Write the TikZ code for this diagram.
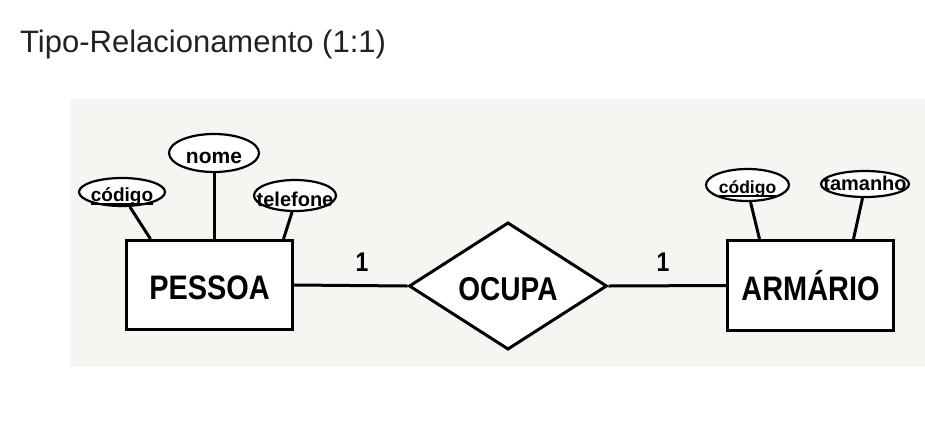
\documentclass[tikz,border=0pt]{standalone}
\usepackage{fontspec}
\setmainfont{Liberation Sans}
\newfontfamily\erfont{Liberation Sans Bold}[FakeStretch=0.85]
\newfontfamily\attfont{Liberation Sans Bold}
\usetikzlibrary{shapes.geometric,calc}
\definecolor{panel}{RGB}{245,245,242}
\definecolor{titlec}{RGB}{34,34,34}
\newcommand\keyul[1]{\setbox0=\hbox{#1}\rlap{\copy0}\rule[-3.5pt]{\wd0}{1.8pt}}
\tikzset{
  entity/.style={draw,line width=3pt,fill=white,minimum width=166pt,minimum height=89pt,inner sep=0pt,text height=29pt,text depth=0pt,font=\erfont\fontsize{34}{34}\selectfont},
  relbox/.style={draw,shape=diamond,line width=3pt,fill=white,minimum width=198pt,minimum height=119pt,inner sep=0pt,text height=28pt,text depth=0pt,font=\erfont\fontsize{33}{33}\selectfont},
  attr/.style={draw,shape=ellipse,line width=2.2pt,fill=white,inner xsep=-30pt,inner ysep=-15pt,text depth=0pt},
  conn/.style={line width=3pt},
  card/.style={font=\erfont\fontsize{27}{27}\selectfont,inner sep=0pt}
}
\begin{document}
\begin{tikzpicture}[x=1pt,y=-1pt]
\useasboundingbox (0,0) rectangle (925,426);
\fill[white] (0,0) rectangle (925,426);
\fill[panel] (70,99) rectangle (925,367);
\node[anchor=base west,inner sep=0pt,text=titlec,font=\fontsize{31}{31}\selectfont] (title) at (20,52) {Tipo-Relacionamento (1:1)};

\node[entity] (pessoa) at (209.5,285) {PESSOA};
\node[relbox] (ocupa) at (508,286) {OCUPA};
\node[entity,minimum height=90pt] (armario) at (810.5,285.5) {ARMÁRIO};

\node[attr,minimum width=86pt,minimum height=28pt,text height=18pt,font=\attfont\fontsize{19}{19}\selectfont] (cod1) at (122,192) {\keyul{código}};
\node[attr,minimum width=90pt,minimum height=38pt,text height=20pt,font=\attfont\fontsize{21}{21}\selectfont] (nome) at (214,153) {nome};
\node[attr,minimum width=82pt,minimum height=31pt,text height=22pt,font=\attfont\fontsize{20}{20}\selectfont] (tel) at (295,195.5) {telefone};
\node[attr,minimum width=83pt,minimum height=32pt,text height=16pt,font=\attfont\fontsize{17.5}{17.5}\selectfont] (cod2) at (747.5,185) {\keyul{código}};
\node[attr,minimum width=88pt,minimum height=26pt,text height=12pt,font=\attfont\fontsize{20}{20}\selectfont] (tam) at (865,184) {tamanho};

\draw[conn] (cod1.-62) -- ($(pessoa.north west)+(25.5,0)$);
\draw[conn] (nome.south) -- (nome.south |- pessoa.north);
\draw[conn] (tel.-100) -- ($(pessoa.north east)+(-10.5,0)$);
\draw[conn] (cod2.-80) -- ($(armario.north west)+(33.5,0)$);
\draw[conn] (tam.-100) -- ($(armario.north east)+(-41.5,0)$);

\draw[conn] (pessoa.east) -- (ocupa.west);
\draw[conn] (ocupa.east) -- (armario.west);

\node[card] (c1) at (362,262) {1};
\node[card] (c2) at (663,262) {1};
\end{tikzpicture}
\end{document}
